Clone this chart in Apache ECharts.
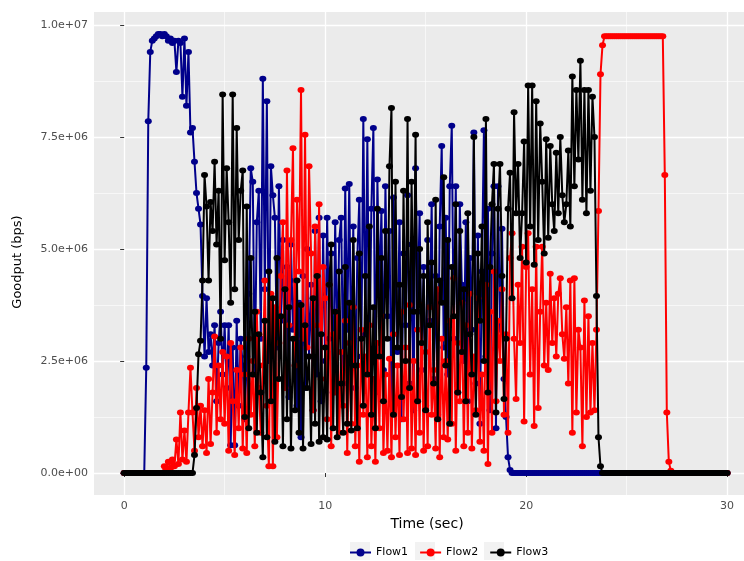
<!DOCTYPE html>
<html lang="en">
<head>
<meta charset="UTF-8">
<title>Goodput</title>
<script src="https://cdn.jsdelivr.net/npm/echarts@6/dist/echarts.min.js"></script>
</head>
<body style="margin:0;background:#fff;">
<div id="main" style="width:744px;height:561px;"></div>
<script>
// time grid: one sample every 0.1 s, 0 .. 30 s
var T_START = 0, T_STEP = 0.1;
var seriesNames = ['Flow1', 'Flow2', 'Flow3'];
var xTicks = [0, 10, 20, 30];
var xMinor = [5, 15, 25];
var yTicks = [0, 2.5, 5, 7.5, 10];          // in 1e6 bps
var yMinor = [1.25, 3.75, 6.25, 8.75];

// goodput in Mbps (labels are printed in bps)
var flow1 = [
  0,0,0,0,0,0,0,0,0,0,
  0,2.35,7.85,9.4,9.65,9.7,9.75,9.8,9.8,9.75,
  9.8,9.75,9.65,9.7,9.6,9.65,8.95,9.65,9.6,8.4,
  9.7,8.2,9.4,7.6,7.7,6.95,6.25,5.9,5.55,3.95,
  2.6,3.9,2.7,3.1,2.4,3.3,1.6,2.9,3.6,2.2,
  3.3,1.9,3.3,0.62,2.8,0.62,3.4,1.5,3.0,2.4,
  1.2,2.6,4.0,6.8,6.5,2.2,5.6,6.3,3.0,8.8,
  4.1,8.3,2.5,6.85,6.2,5.7,2.8,6.4,3.4,5.2,
  2.0,4.6,1.7,5.1,3.2,4.3,1.5,3.8,0.8,4.4,
  1.9,5.0,2.6,4.2,1.4,5.4,2.2,5.7,1.6,5.3,
  2.5,5.7,3.0,4.9,1.8,5.6,2.7,5.2,5.7,2.0,
  6.35,3.2,6.45,2.4,5.5,1.9,4.8,6.1,2.6,7.9,
  3.1,7.45,2.2,5.9,7.7,1.8,6.55,4.0,5.85,2.3,
  6.4,3.5,5.4,1.6,6.15,4.2,2.7,5.6,1.2,4.9,
  3.3,6.2,2.0,5.1,1.4,6.8,3.6,5.8,2.3,4.6,
  1.5,5.2,3.4,6.0,2.1,4.4,1.3,5.5,7.3,2.8,
  5.7,2.2,6.4,7.75,3.0,6.4,1.8,6.0,4.2,2.5,
  5.6,1.6,4.8,3.2,7.6,2.0,5.3,1.1,4.5,7.65,
  2.6,5.9,1.4,4.9,6.4,1.0,6.4,3.2,5.45,2.1,
  1.25,0.35,0.07,0,0,0,0,0,0,0,
  0,0,0,0,0,0,0,0,0,0,
  0,0,0,0,0,0,0,0,0,0,
  0,0,0,0,0,0,0,0,0,0,
  0,0,0,0,0,0,0,0,0,0,
  0,0,0,0,0,0,0,0,0,0,
  0,0,0,0,0,0,0,0,0,0,
  0,0,0,0,0,0,0,0,0,0,
  0,0,0,0,0,0,0,0,0,0,
  0,0,0,0,0,0,0,0,0,0,
  0,0,0,0,0,0,0,0,0,0,
  0
];
var flow2 = [
  0,0,0,0,0,0,0,0,0,0,
  0,0,0,0,0,0,0,0,0,0,
  0.15,0.1,0.25,0.1,0.3,0.15,0.75,0.2,1.35,0.3,
  0.95,0.25,1.35,2.35,1.35,0.5,1.9,0.8,1.5,0.6,
  1.4,0.45,2.1,0.65,1.8,3.05,0.9,2.4,1.2,2.7,
  1.1,2.6,0.5,2.9,1.6,0.4,2.3,1.0,2.8,0.55,
  2.2,0.45,3.0,1.3,2.5,0.6,3.6,1.9,0.9,2.4,
  4.3,1.5,0.15,4.0,0.15,3.7,0.8,2.9,4.4,5.6,
  1.9,6.75,3.3,5.2,7.25,2.4,6.1,4.5,8.55,3.0,
  7.55,2.8,6.85,4.9,1.4,5.5,3.3,6.0,2.1,4.6,
  3.9,1.2,4.2,0.6,3.1,1.8,3.6,0.9,2.7,1.5,
  3.4,0.45,2.9,1.1,3.7,0.6,2.4,0.25,3.2,1.3,
  2.6,0.35,3.3,0.6,2.1,0.25,2.9,1.0,3.5,0.45,
  2.2,0.5,2.55,0.35,3.1,0.8,2.4,0.4,3.6,1.2,
  2.8,0.45,3.75,0.55,2.5,0.4,3.2,0.9,3.75,0.5,
  2.7,0.6,3.7,1.3,2.3,0.55,4.1,0.35,3.0,0.8,
  2.5,0.75,3.4,1.1,4.35,0.5,2.9,1.6,3.8,0.6,
  3.3,0.9,4.0,0.55,2.6,1.4,3.9,0.7,2.2,0.5,
  4.2,0.2,3.6,0.9,4.5,1.6,3.4,2.5,4.1,1.3,
  3.1,0.9,4.8,5.35,3.0,1.65,4.2,2.9,5.05,1.15,
  4.6,5.35,2.2,4.1,1.05,5.05,1.45,3.6,5.05,2.4,
  3.8,2.3,4.45,2.9,3.9,2.6,4.0,4.35,3.1,2.55,
  3.7,2.0,4.3,0.9,4.35,1.35,3.2,2.8,0.6,3.85,
  1.25,3.5,1.35,2.9,1.4,3.2,5.85,8.9,9.55,9.75,
  9.75,9.75,9.75,9.75,9.75,9.75,9.75,9.75,9.75,9.75,
  9.75,9.75,9.75,9.75,9.75,9.75,9.75,9.75,9.75,9.75,
  9.75,9.75,9.75,9.75,9.75,9.75,9.75,9.75,9.75,6.65,
  1.35,0.25,0.05,0,0,0,0,0,0,0,
  0,0,0,0,0,0,0,0,0,0,
  0,0,0,0,0,0,0,0,0,0,
  0
];
var flow3 = [
  0,0,0,0,0,0,0,0,0,0,
  0,0,0,0,0,0,0,0,0,0,
  0,0,0,0,0,0,0,0,0,0,
  0,0,0,0,0,0.4,1.45,2.65,2.95,4.3,
  6.65,5.95,4.3,6.05,5.4,6.95,5.1,6.3,3.0,8.45,
  4.75,6.8,5.6,3.8,8.45,4.1,7.7,5.2,6.3,6.75,
  1.25,5.95,1.0,4.8,2.2,3.6,0.9,3.1,1.8,0.35,
  3.4,0.8,4.5,1.6,3.9,0.7,4.8,2.1,3.5,0.6,
  4.1,1.2,3.7,0.55,3.0,1.4,4.3,0.9,3.75,0.55,
  3.3,1.9,2.6,0.65,3.9,1.1,4.4,0.7,3.1,0.8,
  2.8,0.75,4.2,5.1,1.0,3.6,0.8,4.5,2.0,0.9,
  4.6,1.1,3.8,0.95,5.2,2.4,1.0,4.9,3.0,1.5,
  4.4,2.2,5.5,1.3,3.7,1.0,5.9,2.6,4.8,1.6,
  5.4,3.0,6.85,8.15,1.3,6.5,2.8,4.2,1.7,6.3,
  2.5,7.9,1.9,6.5,3.6,7.55,1.6,5.0,2.9,4.4,
  1.4,5.6,3.3,4.7,2.0,6.1,1.2,4.3,3.8,6.6,
  2.4,5.2,1.1,4.6,3.5,6.0,1.8,5.4,2.7,4.1,
  1.6,5.8,3.1,2.2,7.5,1.3,4.9,3.4,5.5,2.5,
  7.9,1.8,4.6,6.0,6.9,1.35,5.9,6.9,4.4,1.65,
  3.0,5.9,6.7,3.9,8.05,5.8,6.9,4.8,5.8,7.4,
  4.7,8.65,5.5,8.65,4.65,8.3,5.2,7.8,6.5,4.9,
  7.45,5.25,7.3,6.0,5.4,7.15,5.8,7.5,6.2,5.6,
  6.0,7.2,5.5,8.85,6.4,8.55,7.0,9.2,6.1,8.55,
  5.8,8.55,6.3,8.4,7.5,3.95,0.8,0.15,0,0,
  0,0,0,0,0,0,0,0,0,0,
  0,0,0,0,0,0,0,0,0,0,
  0,0,0,0,0,0,0,0,0,0,
  0,0,0,0,0,0,0,0,0,0,
  0,0,0,0,0,0,0,0,0,0,
  0,0,0,0,0,0,0,0,0,0,
  0
];
var colors = ['#00008B', '#FF0000', '#000000'];

function pairs(vals) {
  return vals.map(function (v, i) { return [+(T_START + i * T_STEP).toFixed(1), v]; });
}
// 2.5 -> "2.5e+06"
function sci(v) {
  var s = (v * 1e6).toExponential(1);
  return s.replace(/e([+-])(\d+)$/, function (m, sg, d) { return 'e' + sg + (d.length < 2 ? '0' + d : d); });
}

var chart = echarts.init(document.getElementById('main'));
var font = 'DejaVu Sans, sans-serif';
var gridStyle = { show: true, lineStyle: { color: '#FFFFFF', width: 1.3 } };
var minorStyle = { show: true, lineStyle: { color: '#FFFFFF', width: 0.6 } };

// legend key backgrounds (ggplot draws a light grey box behind each key)
var keyBoxes = [350, 415, 484].map(function (x) {
  return { type: 'rect', shape: { x: x, y: 542, width: 20, height: 18 }, style: { fill: '#F2F2F2' }, z: -1 };
});

// the panel runs past the right edge of the picture, so the x range is cut at 30.84
var option = {
  animation: false,
  backgroundColor: '#FFFFFF',
  grid: { left: 94, top: 12, right: 0, height: 483, show: true, backgroundColor: '#EBEBEB', borderWidth: 0 },
  graphic: keyBoxes.concat([{
    type: 'text', x: 18, y: 262, rotation: Math.PI / 2,
    style: { text: 'Goodput (bps)', fill: '#000', font: '13px ' + font, textAlign: 'center', textVerticalAlign: 'middle' }
  }]),
  xAxis: [{
    type: 'value', min: -1.5, max: 30.84,
    name: 'Time (sec)', nameLocation: 'middle', nameGap: 19,
    nameTextStyle: { color: '#000', fontSize: 14, fontFamily: font, padding: [0, 0, 0, 16] },
    axisLine: { show: false },
    axisTick: { show: true, length: 4, customValues: xTicks, lineStyle: { color: '#333' } },
    axisLabel: { customValues: xTicks, margin: 6, color: '#4D4D4D', fontSize: 11, fontFamily: font },
    splitLine: gridStyle
  }, {
    type: 'value', min: -1.5, max: 30.84, position: 'bottom',
    axisLine: { show: false }, axisLabel: { show: false },
    axisTick: { show: false, customValues: xMinor },
    splitLine: minorStyle
  }],
  yAxis: [{
    type: 'value', min: -0.49, max: 10.29,
    axisLine: { show: false },
    axisTick: { show: true, length: 4, customValues: yTicks, lineStyle: { color: '#333' } },
    axisLabel: { customValues: yTicks, margin: 6, color: '#4D4D4D', fontSize: 11, fontFamily: font, formatter: sci },
    splitLine: gridStyle
  }, {
    type: 'value', min: -0.49, max: 10.29, position: 'left',
    axisLine: { show: false }, axisLabel: { show: false },
    axisTick: { show: false, customValues: yMinor },
    splitLine: minorStyle
  }],
  legend: {
    left: 344, top: 542, itemWidth: 21, itemHeight: 10, itemGap: 11,
    textStyle: { color: '#000', fontSize: 11, fontFamily: font },
    data: seriesNames
  },
  series: [flow1, flow2, flow3].map(function (vals, k) {
    return {
      name: seriesNames[k], type: 'line', data: pairs(vals),
      symbol: 'circle', symbolSize: [7, 6], showAllSymbol: true,
      lineStyle: { color: colors[k], width: 2 },
      itemStyle: { color: colors[k] },
      z: 3 + k
    };
  })
};
chart.setOption(option);
</script>
</body>
</html>
